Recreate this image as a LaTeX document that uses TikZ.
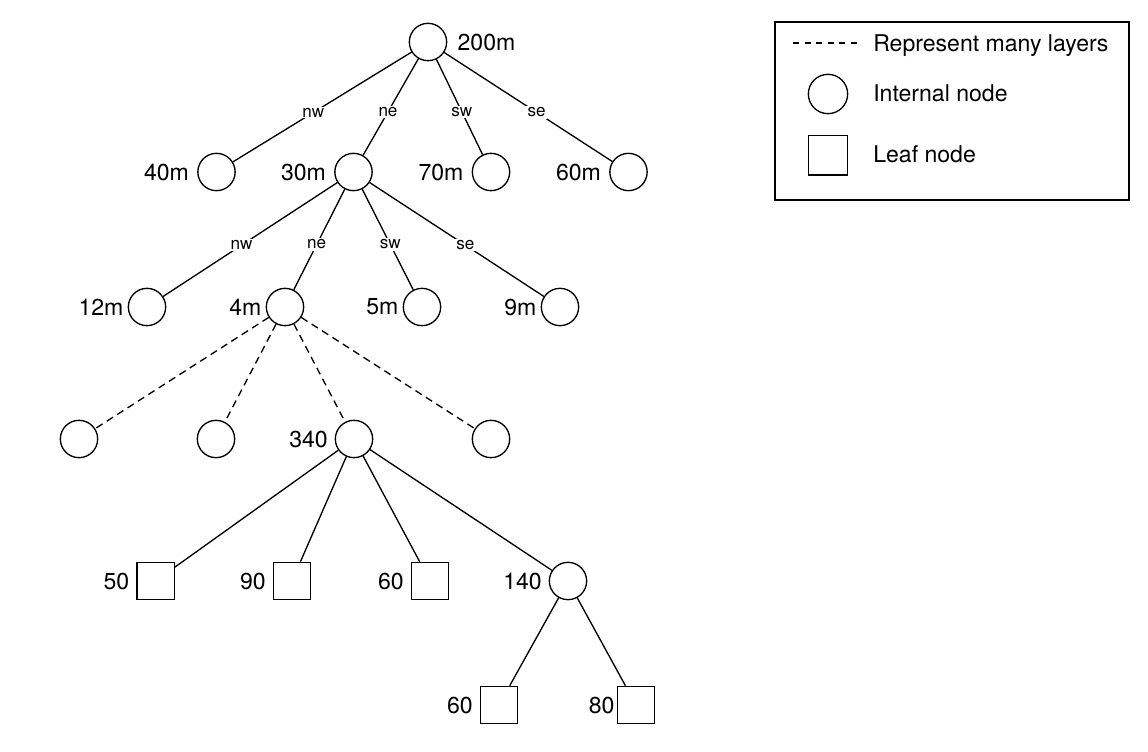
\documentclass[tikz,border=0pt]{standalone}
\usepackage{fontspec}
\setmainfont{TeX Gyre Heros}

\begin{document}
\begin{tikzpicture}[x=0.75pt, y=-0.75pt,
  inner/.style={draw, circle, line width=1pt, minimum size=28pt, inner sep=0pt},
  leaf/.style={draw, rectangle, line width=1pt, minimum size=28pt, inner sep=0pt},
  quad/.style={fill=white, inner sep=1pt, pos=0.55, font=\fontsize{12.8}{14}\selectfont},
  layers/.style={dash pattern=on 5.5pt off 3.75pt},
  every label/.style={inner sep=0pt}]
\fontsize{17.3}{20}\selectfont
\useasboundingbox (0,0) rectangle (1148,752);

% root and first quadrants
\node[inner, label={[label distance=7.5pt]right:200m}] (root) at (428,42) {};
\begin{scope}[label distance=6pt]
\node[inner, label=left:40m] (q40) at (216.5,172) {};
\node[inner, label=left:30m] (q30) at (353.5,172) {};
\node[inner, label=left:70m] (q70) at (491,172) {};
\node[inner, label=left:60m] (q60) at (628.5,172) {};
\end{scope}

\begin{scope}[label distance=3pt]
\node[inner, label=left:12m] (q12) at (147,307) {};
\node[inner, label=left:4m] (q4) at (285,307) {};
\node[inner, label=left:5m] (q5) at (422,307) {};
\node[inner, label=left:9m] (q9) at (560,307) {};
\end{scope}

\begin{scope}[label distance=5pt]
\node[inner] (d1) at (79,439) {};
\node[inner] (d2) at (216,439) {};
\node[inner, label=left:340] (d340) at (354,439) {};
\node[inner] (d4) at (491,439) {};

\node[leaf, label=left:50] (l50) at (155.5,581) {};
\node[leaf, label=left:90] (l90) at (292,581) {};
\node[leaf, label=left:60] (l60) at (430,581) {};
\node[inner, label=left:140] (n140) at (568,581) {};

\node[leaf, label=left:60] (l60b) at (499,705) {};
\node[leaf, label={[label distance=1.5pt]left:80}] (l80) at (636,705) {};
\end{scope}

\begin{scope}[line width=1pt]
\foreach \c/\q in {q40/nw, q30/ne, q70/sw, q60/se}
{
\draw (root) -- node[quad] {\q} (\c);
}
\foreach \c/\q in {q12/nw, q4/ne, q5/sw, q9/se}
{
\draw (q30) -- node[quad] {\q} (\c);
}
\foreach \c in {d1, d2, d340, d4}
{
\draw[layers] (q4) -- (\c);
}
\foreach \c in {l50, l90, l60, n140}
{
\draw (d340) -- (\c);
}
\draw (n140) -- (l60b);
\draw (n140) -- (l80);
\end{scope}

% legend
\draw[line width=1pt] (775,22) rectangle (1129,200);
\coordinate (dashL) at (793,43);
\coordinate (dashR) at (857,43);
\draw[line width=0.8pt, dash pattern=on 4.5pt off 4.2pt] (dashL) -- (dashR);
\node[anchor=base west, inner sep=0pt] (tlayers) at (873,52) {Represent many layers};
\node[inner, minimum size=29.5pt] (legcirc) at (828,94) {};
\node[anchor=base west, inner sep=0pt] (tinner) at (873,102) {Internal node};
\node[leaf, minimum size=29.5pt] (legleaf) at (828,155.5) {};
\node[anchor=base west, inner sep=0pt] (tleaf) at (873,163) {Leaf node};

\end{tikzpicture}
\end{document}
